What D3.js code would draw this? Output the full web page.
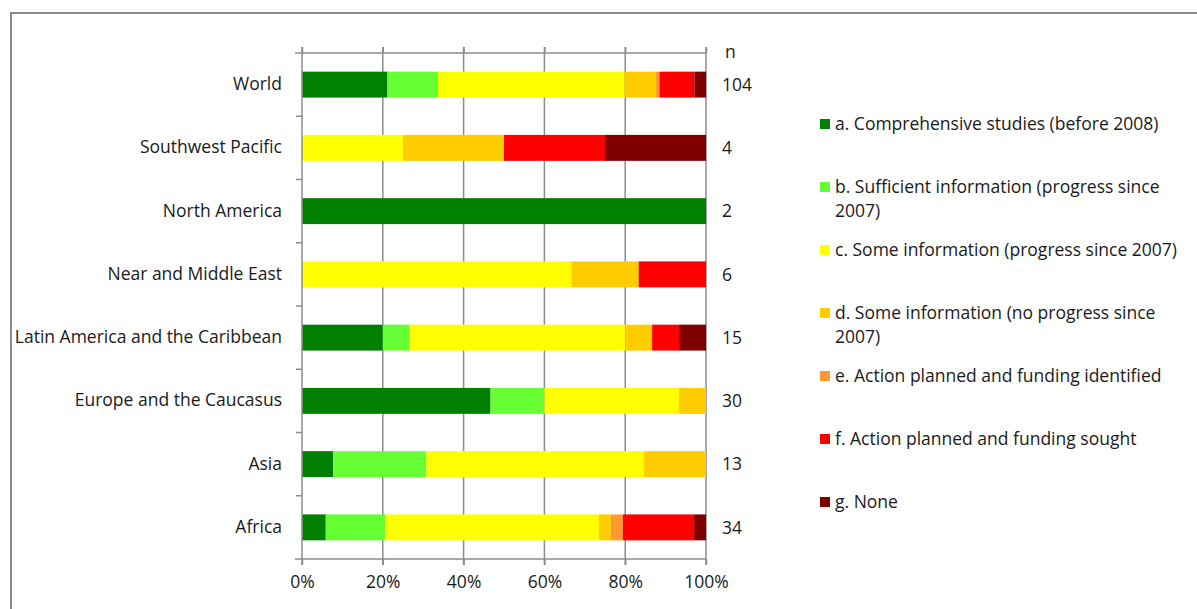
<!DOCTYPE html>
<html>
<head>
<meta charset="utf-8">
<script src="https://cdn.jsdelivr.net/npm/d3@7"></script>
<style>
  body { margin: 0; background: #fff; }
  svg { display: block; }
  svg text { font-family: "Open Sans", sans-serif; }
</style>
</head>
<body>
<div id="container"></div>
<script>
"use strict";

// SECTION: data (counts per region, top to bottom)
const regions = ["World", "Southwest Pacific", "North America", "Near and Middle East",
  "Latin America and the Caribbean", "Europe and the Caucasus", "Asia", "Africa"];
const nCounts = [104, 4, 2, 6, 15, 30, 13, 34];

const seriesNames = [
  "a. Comprehensive studies (before 2008)",
  "b. Sufficient information (progress since 2007)",
  "c. Some information (progress since 2007)",
  "d. Some information (no progress since 2007)",
  "e. Action planned and funding identified",
  "f. Action planned and funding sought",
  "g. None"
];
const seriesColors = ["#008000", "#66ff33", "#ffff00", "#ffcc00", "#ff9933", "#ff0000", "#800000"];

const aComprehensive = [22, 0, 2, 0, 3, 14, 1, 2];
const bSufficient    = [13, 0, 0, 0, 1, 4, 3, 5];
const cSomeProgress  = [48, 1, 0, 4, 8, 10, 7, 18];
const dSomeNoProg    = [8, 1, 0, 1, 1, 2, 2, 1];
const eFundingIdent  = [1, 0, 0, 0, 0, 0, 0, 1];
const fFundingSought = [9, 1, 0, 1, 1, 0, 0, 6];
const gNone          = [3, 1, 0, 0, 1, 0, 0, 1];

const xTicks = [0, 0.2, 0.4, 0.6, 0.8, 1];

const allSeries = [aComprehensive, bSufficient, cSomeProgress, dSomeNoProg, eFundingIdent, fFundingSought, gNone];

// build rows as shares
const rows = regions.map((r, i) => {
  const row = { region: r };
  seriesNames.forEach((s, k) => { row[s] = allSeries[k][i] / nCounts[i]; });
  return row;
});

const W = 1197, H = 609;
const fontSize = "17.5px";
const textCol = "#1a1a1a";
const svg = d3.select("#container").append("svg")
  .attr("width", W).attr("height", H);

// outer frame
svg.append("rect")
  .attr("x", 11).attr("y", 13)
  .attr("width", W + 20).attr("height", H + 20)
  .attr("fill", "none").attr("stroke", "#888").attr("stroke-width", 2);

const plotL = 302, plotR = 706, plotT = 53, plotB = 559;

const x = d3.scaleLinear().domain([0, 1]).range([plotL, plotR]);
const y = d3.scaleBand().domain(regions).range([plotT, plotB]).paddingInner(0.59).paddingOuter(0.295);
const yOuter = d3.scaleBand().domain(regions).range([plotT, plotB]);

const grey = "#8c8c8c";

// gridlines
svg.append("g").selectAll("line")
  .data(xTicks.slice(1))
  .join("line")
    .attr("x1", d => x(d)).attr("x2", d => x(d))
    .attr("y1", plotT - 6).attr("y2", plotB + 6)
    .attr("stroke", grey).attr("stroke-width", 1.5);

// stacked bars
const stack = d3.stack().keys(seriesNames);
const stacked = stack(rows);

svg.append("g").selectAll("g")
  .data(stacked)
  .join("g")
    .attr("fill", (d, i) => seriesColors[i])
  .selectAll("rect")
  .data(d => d)
  .join("rect")
    .attr("x", d => x(d[0]))
    .attr("y", d => y(d.data.region))
    .attr("width", d => Math.max(0, x(d[1]) - x(d[0])))
    .attr("height", y.bandwidth());

// bottom axis
const xAxis = svg.append("g")
  .attr("transform", `translate(0,${plotB})`)
  .call(d3.axisBottom(x).tickValues(xTicks).tickFormat(d3.format(".0%")).tickSize(6).tickPadding(11).tickSizeOuter(0));
xAxis.select(".domain").remove();
xAxis.attr("font-family", null);
xAxis.selectAll("line").attr("stroke", grey).attr("stroke-width", 1.5);
xAxis.selectAll("text").style("font-size", fontSize).attr("fill", textCol);

// top axis (ticks only)
const xTop = svg.append("g")
  .attr("transform", `translate(0,${plotT})`)
  .call(d3.axisTop(x).tickValues(xTicks).tickFormat("").tickSize(6).tickSizeOuter(0));
xTop.select(".domain").remove();
xTop.selectAll("line").attr("stroke", grey).attr("stroke-width", 1.5);

// horizontal axis lines
[plotT, plotB].forEach(v => {
  svg.append("line")
    .attr("x1", plotL - 7).attr("x2", plotR)
    .attr("y1", v).attr("y2", v)
    .attr("stroke", grey).attr("stroke-width", 1.5);
});

// vertical axis line
svg.append("line")
  .attr("x1", plotL).attr("x2", plotL)
  .attr("y1", plotT - 6).attr("y2", plotB + 6)
  .attr("stroke", grey).attr("stroke-width", 1.5);

// category tick marks between bands
svg.append("g").selectAll("line")
  .data(regions.slice(1))
  .join("line")
    .attr("x1", plotL - 6).attr("x2", plotL)
    .attr("y1", d => yOuter(d)).attr("y2", d => yOuter(d))
    .attr("stroke", grey).attr("stroke-width", 1.5);

// category labels
const yAxis = svg.append("g")
  .attr("transform", `translate(${plotL - 20},0)`)
  .call(d3.axisLeft(yOuter).tickSize(0).tickPadding(0));
yAxis.select(".domain").remove();
yAxis.attr("font-family", null);
yAxis.selectAll("text").style("font-size", fontSize).attr("fill", textCol);

// n labels
svg.append("text")
  .attr("x", 725).attr("y", plotT + 5)
  .style("font-size", fontSize).attr("fill", textCol)
  .text("n");

svg.append("g").selectAll("text")
  .data(regions)
  .join("text")
    .attr("x", 722)
    .attr("y", d => yOuter(d) + yOuter.bandwidth() / 2)
    .attr("dy", "0.35em")
    .style("font-size", fontSize).attr("fill", textCol)
    .text((d, i) => nCounts[i]);

// legend
const legend = svg.append("g").attr("transform", "translate(820,0)");
const legY = d3.scaleBand().domain(seriesNames).range([93, 93 + 63 * 7]);

const items = legend.selectAll("g")
  .data(seriesNames)
  .join("g")
    .attr("transform", d => `translate(0,${legY(d) + 31})`);

items.append("rect")
  .attr("x", 0).attr("y", -5)
  .attr("width", 10).attr("height", 10)
  .attr("fill", (d, i) => seriesColors[i]);

items.append("text")
  .style("font-size", fontSize).attr("fill", textCol)
  .each(function(d) {
    // simple word wrap
    const el = d3.select(this);
    const words = d.split(" ");
    let line = [];
    let tspan = el.append("tspan").attr("x", 15).attr("y", 0).attr("dy", "0.35em");
    words.forEach(w => {
      line.push(w);
      tspan.text(line.join(" "));
      if (tspan.node().getComputedTextLength() > 352 && line.length > 1) {
        line.pop();
        tspan.text(line.join(" "));
        line = [w];
        tspan = el.append("tspan").attr("x", 15).attr("dy", 24).text(w);
      }
    });
  });
</script>
</body>
</html>
